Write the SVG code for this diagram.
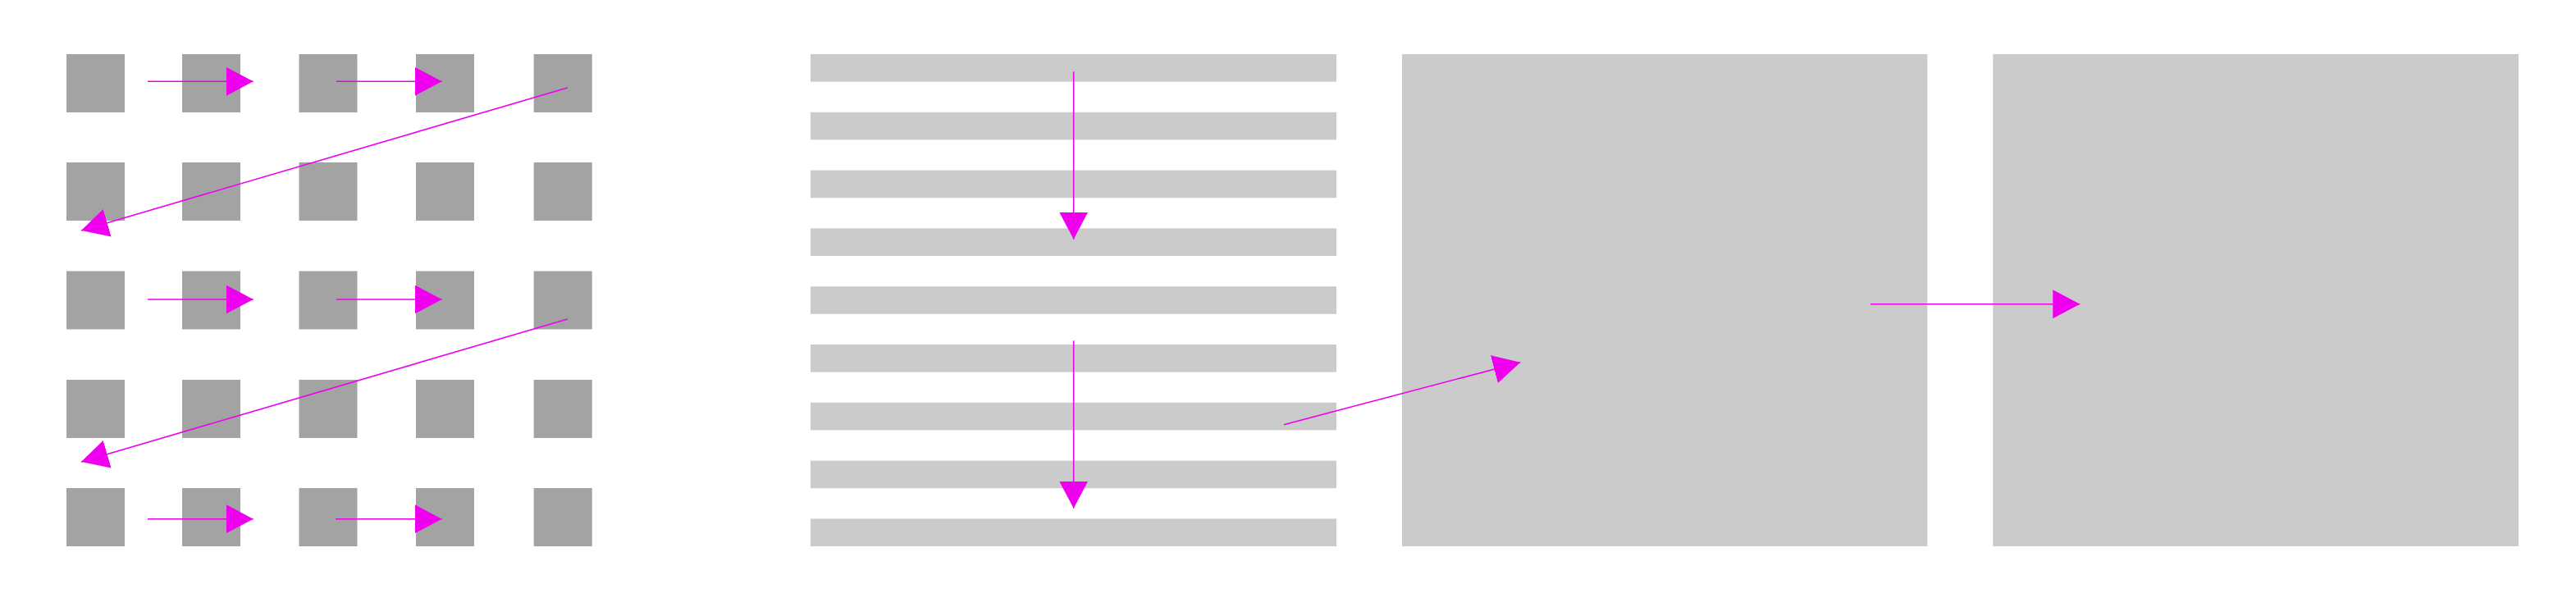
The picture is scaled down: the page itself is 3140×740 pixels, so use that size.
<svg xmlns="http://www.w3.org/2000/svg" width="3140" height="740" viewBox="0 0 3140 740">
<defs>
<style>
.sq{fill:#a3a3a3}
.st{fill:#cbcbcb}
.big{fill:#cbcbcb}
.ar{stroke:#ee00ee;stroke-width:1.6;fill:none;marker-end:url(#ah)}
</style>
<marker id="ah" markerUnits="userSpaceOnUse" markerWidth="34" markerHeight="36" refX="33" refY="17.5" orient="auto" viewBox="0 0 34 36">
<path d="M0,0 L33,17.5 L0,35 z" fill="#ee00ee"/>
</marker>
</defs>
<rect width="3140" height="740" fill="#ffffff"/>
<g id="grid">
<g id="sq-r1c1"><rect class="sq" x="81" y="66" width="71" height="71"/></g>
<g id="sq-r1c2"><rect class="sq" x="222" y="66" width="71" height="71"/></g>
<g id="sq-r1c3"><rect class="sq" x="364.5" y="66" width="71" height="71"/></g>
<g id="sq-r1c4"><rect class="sq" x="507" y="66" width="71" height="71"/></g>
<g id="sq-r1c5"><rect class="sq" x="650.7" y="66" width="71" height="71"/></g>
<g id="sq-r2c1"><rect class="sq" x="81" y="198" width="71" height="71"/></g>
<g id="sq-r2c2"><rect class="sq" x="222" y="198" width="71" height="71"/></g>
<g id="sq-r2c3"><rect class="sq" x="364.5" y="198" width="71" height="71"/></g>
<g id="sq-r2c4"><rect class="sq" x="507" y="198" width="71" height="71"/></g>
<g id="sq-r2c5"><rect class="sq" x="650.7" y="198" width="71" height="71"/></g>
<g id="sq-r3c1"><rect class="sq" x="81" y="330.5" width="71" height="71"/></g>
<g id="sq-r3c2"><rect class="sq" x="222" y="330.5" width="71" height="71"/></g>
<g id="sq-r3c3"><rect class="sq" x="364.5" y="330.5" width="71" height="71"/></g>
<g id="sq-r3c4"><rect class="sq" x="507" y="330.5" width="71" height="71"/></g>
<g id="sq-r3c5"><rect class="sq" x="650.7" y="330.5" width="71" height="71"/></g>
<g id="sq-r4c1"><rect class="sq" x="81" y="463" width="71" height="71"/></g>
<g id="sq-r4c2"><rect class="sq" x="222" y="463" width="71" height="71"/></g>
<g id="sq-r4c3"><rect class="sq" x="364.5" y="463" width="71" height="71"/></g>
<g id="sq-r4c4"><rect class="sq" x="507" y="463" width="71" height="71"/></g>
<g id="sq-r4c5"><rect class="sq" x="650.7" y="463" width="71" height="71"/></g>
<g id="sq-r5c1"><rect class="sq" x="81" y="595" width="71" height="71"/></g>
<g id="sq-r5c2"><rect class="sq" x="222" y="595" width="71" height="71"/></g>
<g id="sq-r5c3"><rect class="sq" x="364.5" y="595" width="71" height="71"/></g>
<g id="sq-r5c4"><rect class="sq" x="507" y="595" width="71" height="71"/></g>
<g id="sq-r5c5"><rect class="sq" x="650.7" y="595" width="71" height="71"/></g>
</g>
<g id="stripes">
<g id="stripe1"><rect class="st" x="988" y="66" width="641" height="33.6"/></g>
<g id="stripe2"><rect class="st" x="988" y="136.8" width="641" height="33.6"/></g>
<g id="stripe3"><rect class="st" x="988" y="207.6" width="641" height="33.6"/></g>
<g id="stripe4"><rect class="st" x="988" y="278.4" width="641" height="33.6"/></g>
<g id="stripe5"><rect class="st" x="988" y="349.2" width="641" height="33.6"/></g>
<g id="stripe6"><rect class="st" x="988" y="420" width="641" height="33.6"/></g>
<g id="stripe7"><rect class="st" x="988" y="490.8" width="641" height="33.6"/></g>
<g id="stripe8"><rect class="st" x="988" y="561.6" width="641" height="33.6"/></g>
<g id="stripe9"><rect class="st" x="988" y="632.4" width="641" height="33.6"/></g>
</g>
<g id="block1"><rect class="big" x="1709" y="66" width="640.3" height="600"/></g>
<g id="block2"><rect class="big" x="2429.3" y="66" width="640.7" height="600"/></g>
<g id="connectors">
<line class="ar" x1="180" y1="99.3" x2="308.7" y2="99.3"/>
<line class="ar" x1="410" y1="99.3" x2="538.7" y2="99.3"/>
<line class="ar" x1="691.7" y1="107" x2="99" y2="281"/>
<line class="ar" x1="180" y1="365" x2="308.7" y2="365"/>
<line class="ar" x1="410" y1="365" x2="538.7" y2="365"/>
<line class="ar" x1="691.7" y1="389" x2="99" y2="563"/>
<line class="ar" x1="180" y1="632.7" x2="308.7" y2="632.7"/>
<line class="ar" x1="409" y1="632.7" x2="538.7" y2="632.7"/>
<line class="ar" x1="1308.7" y1="87.3" x2="1308.7" y2="291.7"/>
<line class="ar" x1="1308.7" y1="415.3" x2="1308.7" y2="619.7"/>
<line class="ar" x1="1565" y1="517.7" x2="1853.3" y2="441.7"/>
<line class="ar" x1="2280" y1="370.7" x2="2535.3" y2="370.7"/>
</g>
</svg>
